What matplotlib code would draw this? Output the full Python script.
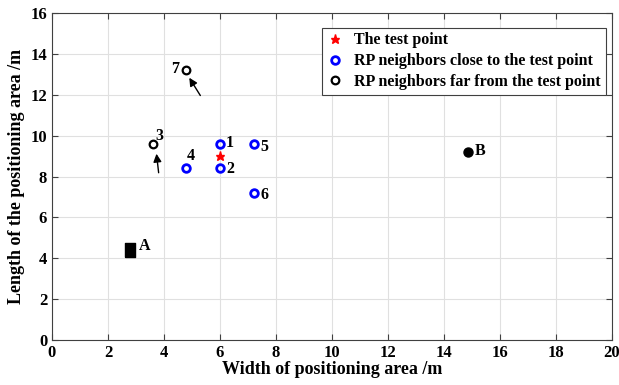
import matplotlib
matplotlib.use('Agg')
import matplotlib.pyplot as plt
import numpy as np

plt.rcParams['font.family'] = ['Liberation Serif', 'DejaVu Serif']
plt.rcParams['font.weight'] = 'bold'

# data
test_x, test_y = [6.0], [9.0]
close_x = [6.0, 6.0, 4.8, 7.2, 7.2]
close_y = [9.6, 8.4, 8.4, 9.6, 7.2]
close_labels = ['1', '2', '4', '5', '6']
far_x = [3.6, 4.8]
far_y = [9.6, 13.2]
far_labels = ['3', '7']
anchor_x = [2.8, 14.85]
anchor_y = [4.4, 9.2]
anchor_labels = ['A', 'B']

fig = plt.figure(figsize=(6.19, 3.85), dpi=100)
ax = fig.add_axes([0.084, 0.117, 0.9047, 0.849])

ax.plot(test_x, test_y, '*', color='red', ms=6.5, label='The test point')
ax.plot(close_x, close_y, 'o', mfc='none', mec='blue', ms=5.5, mew=2,
        label='RP neighbors close to the test point')
ax.plot(far_x, far_y, 'o', mfc='none', mec='black', ms=5.5, mew=1.6,
        label='RP neighbors far from the test point')

rect = [(-0.35, -0.5), (0.35, -0.5), (0.35, 0.5), (-0.35, 0.5), (-0.35, -0.5)]
ax.plot(anchor_x[:1], anchor_y[:1], marker=rect, color='black', ms=10, ls='none')
ax.plot(anchor_x[1:], anchor_y[1:], marker='o', color='black', ms=6.5, ls='none')

# point labels
offs = {'1': (0.35, 0.05), '2': (0.38, -0.05), '4': (0.15, 0.6), '5': (0.4, -0.15),
        '6': (0.4, -0.1)}
for x, y, t in zip(close_x, close_y, close_labels):
    dx, dy = offs[t]
    ax.text(x + dx, y + dy, t, fontsize=11.5, fontweight='bold', ha='center', va='center')
ax.text(3.85, 10.0, '3', fontsize=11.5, fontweight='bold', ha='center', va='center')
ax.text(4.4, 13.25, '7', fontsize=11.5, fontweight='bold', ha='center', va='center')
ax.text(3.3, 4.6, 'A', fontsize=11.5, fontweight='bold', ha='center', va='center')
ax.text(15.3, 9.25, 'B', fontsize=11.5, fontweight='bold', ha='center', va='center')

# arrows
ax.annotate('', xy=(4.85, 12.95), xytext=(5.35, 11.85),
            arrowprops=dict(arrowstyle='-|>', color='black', lw=1, mutation_scale=12))
ax.annotate('', xy=(3.72, 9.25), xytext=(3.82, 8.05),
            arrowprops=dict(arrowstyle='-|>', color='black', lw=1, mutation_scale=12))

ax.set_xlim(0, 20)
ax.set_ylim(0, 16)
ax.set_xticks(np.arange(0, 21, 2))
ax.set_yticks(np.arange(0, 17, 2))
ax.grid(True, color='#e0e0e0', lw=0.8)
ax.set_axisbelow(True)
ax.tick_params(direction='in', top=True, right=True, labelsize=12, length=4,
               color='#404040')
for s in ax.spines.values():
    s.set_color('#404040')
for lab in ax.get_xticklabels() + ax.get_yticklabels():
    lab.set_fontweight('bold')
ax.set_xlabel('Width of positioning area /m', fontsize=13, fontweight='bold', labelpad=0)
ax.set_ylabel('Length of the positioning area /m', fontsize=13, fontweight='bold', labelpad=4)

leg = ax.legend(loc='upper right', bbox_to_anchor=(0.997, 0.97), fontsize=11.5,
                frameon=True, fancybox=False, edgecolor='#404040', framealpha=1,
                handlelength=1.0, borderpad=0.3, labelspacing=0.3, handletextpad=0.7,
                borderaxespad=0.3)
leg.get_frame().set_linewidth(0.8)
for t in leg.get_texts():
    t.set_fontweight('bold')

plt.savefig('out.png', dpi=100)
